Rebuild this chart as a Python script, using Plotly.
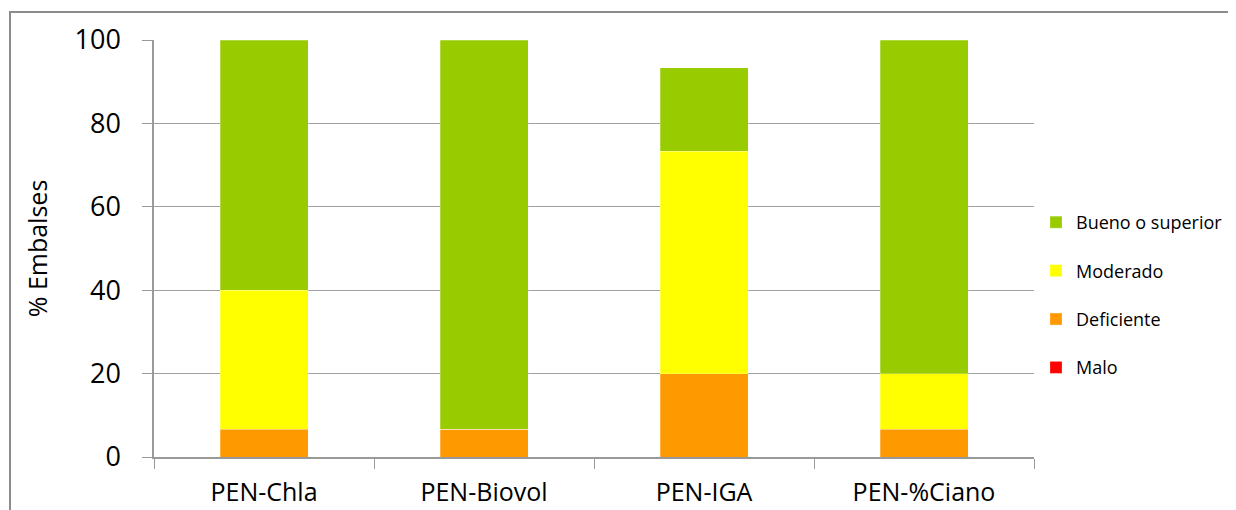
import plotly.graph_objects as go

categories = ["PEN-Chla", "PEN-Biovol", "PEN-IGA", "PEN-%Ciano"]
malo = [0, 0, 0, 0]
deficiente = [6.67, 6.67, 20.0, 6.67]
moderado = [33.33, 0, 53.33, 13.33]
bueno = [60.0, 93.33, 20.0, 80.0]

series = [
    ("Malo", malo, "#FF0000", 4),
    ("Deficiente", deficiente, "#FF9900", 3),
    ("Moderado", moderado, "#FFFF00", 2),
    ("Bueno o superior", bueno, "#99CC00", 1),
]

FONT = "'Open Sans', sans-serif"

fig = go.Figure()
for name, vals, color, rank in series:
    fig.add_trace(go.Bar(
        x=categories, y=vals, name=name, legendgroup=name, legendrank=rank,
        marker=dict(color=color, line=dict(color="rgba(255,255,255,0.5)", width=0.5)),
    ))

# page offset (body margin of the html page)
O = 8
W, H = 1236, 510
L, R, T, B = 154 - O, 1034 - O, 40 - O, 457 - O
pw, ph = R - L, B - T

def px(x):
    return (x - O - L) / pw

def py(y):
    return (B - (y - O)) / ph

fig.update_layout(
    width=W, height=H,
    margin=dict(l=L, r=W - R, t=T, b=H - B, autoexpand=False),
    barmode="stack",
    bargap=0.6,
    plot_bgcolor="white",
    paper_bgcolor="white",
    font=dict(family=FONT, color="black"),
    showlegend=True,
    legend=dict(
        x=px(1036), y=py(204), xanchor="left", yanchor="top",
        traceorder="grouped", tracegroupgap=22,
        font=dict(size=18, family=FONT),
        itemwidth=30,
    ),
    xaxis=dict(
        automargin=False,
        showline=True, linecolor="#999999", linewidth=1.5,
        ticks="outside", tickson="boundaries", ticklen=10, tickcolor="#999999",
        tickfont=dict(size=25, family=FONT),
        ticklabelstandoff=12,
        showgrid=False,
    ),
    yaxis=dict(
        automargin=False,
        range=[0, 100], tickvals=[0, 20, 40, 60, 80, 100],
        showline=True, linecolor="#999999", linewidth=1.5,
        ticks="outside", ticklen=10, tickcolor="#999999",
        showgrid=True, gridcolor="#A0A0A0", gridwidth=1,
        tickfont=dict(size=27, family=FONT),
        ticklabelstandoff=16,
        title=dict(text="% Embalses", font=dict(size=25, family=FONT), standoff=20),
        zeroline=False,
    ),
    shapes=[dict(
        type="rect", xref="paper", yref="paper",
        x0=px(10), x1=px(1260), y0=py(530), y1=py(12),
        line=dict(color="#8C8C8C", width=2), fillcolor="rgba(0,0,0,0)", layer="below",
    )],
)

fig.write_html("out.html")
